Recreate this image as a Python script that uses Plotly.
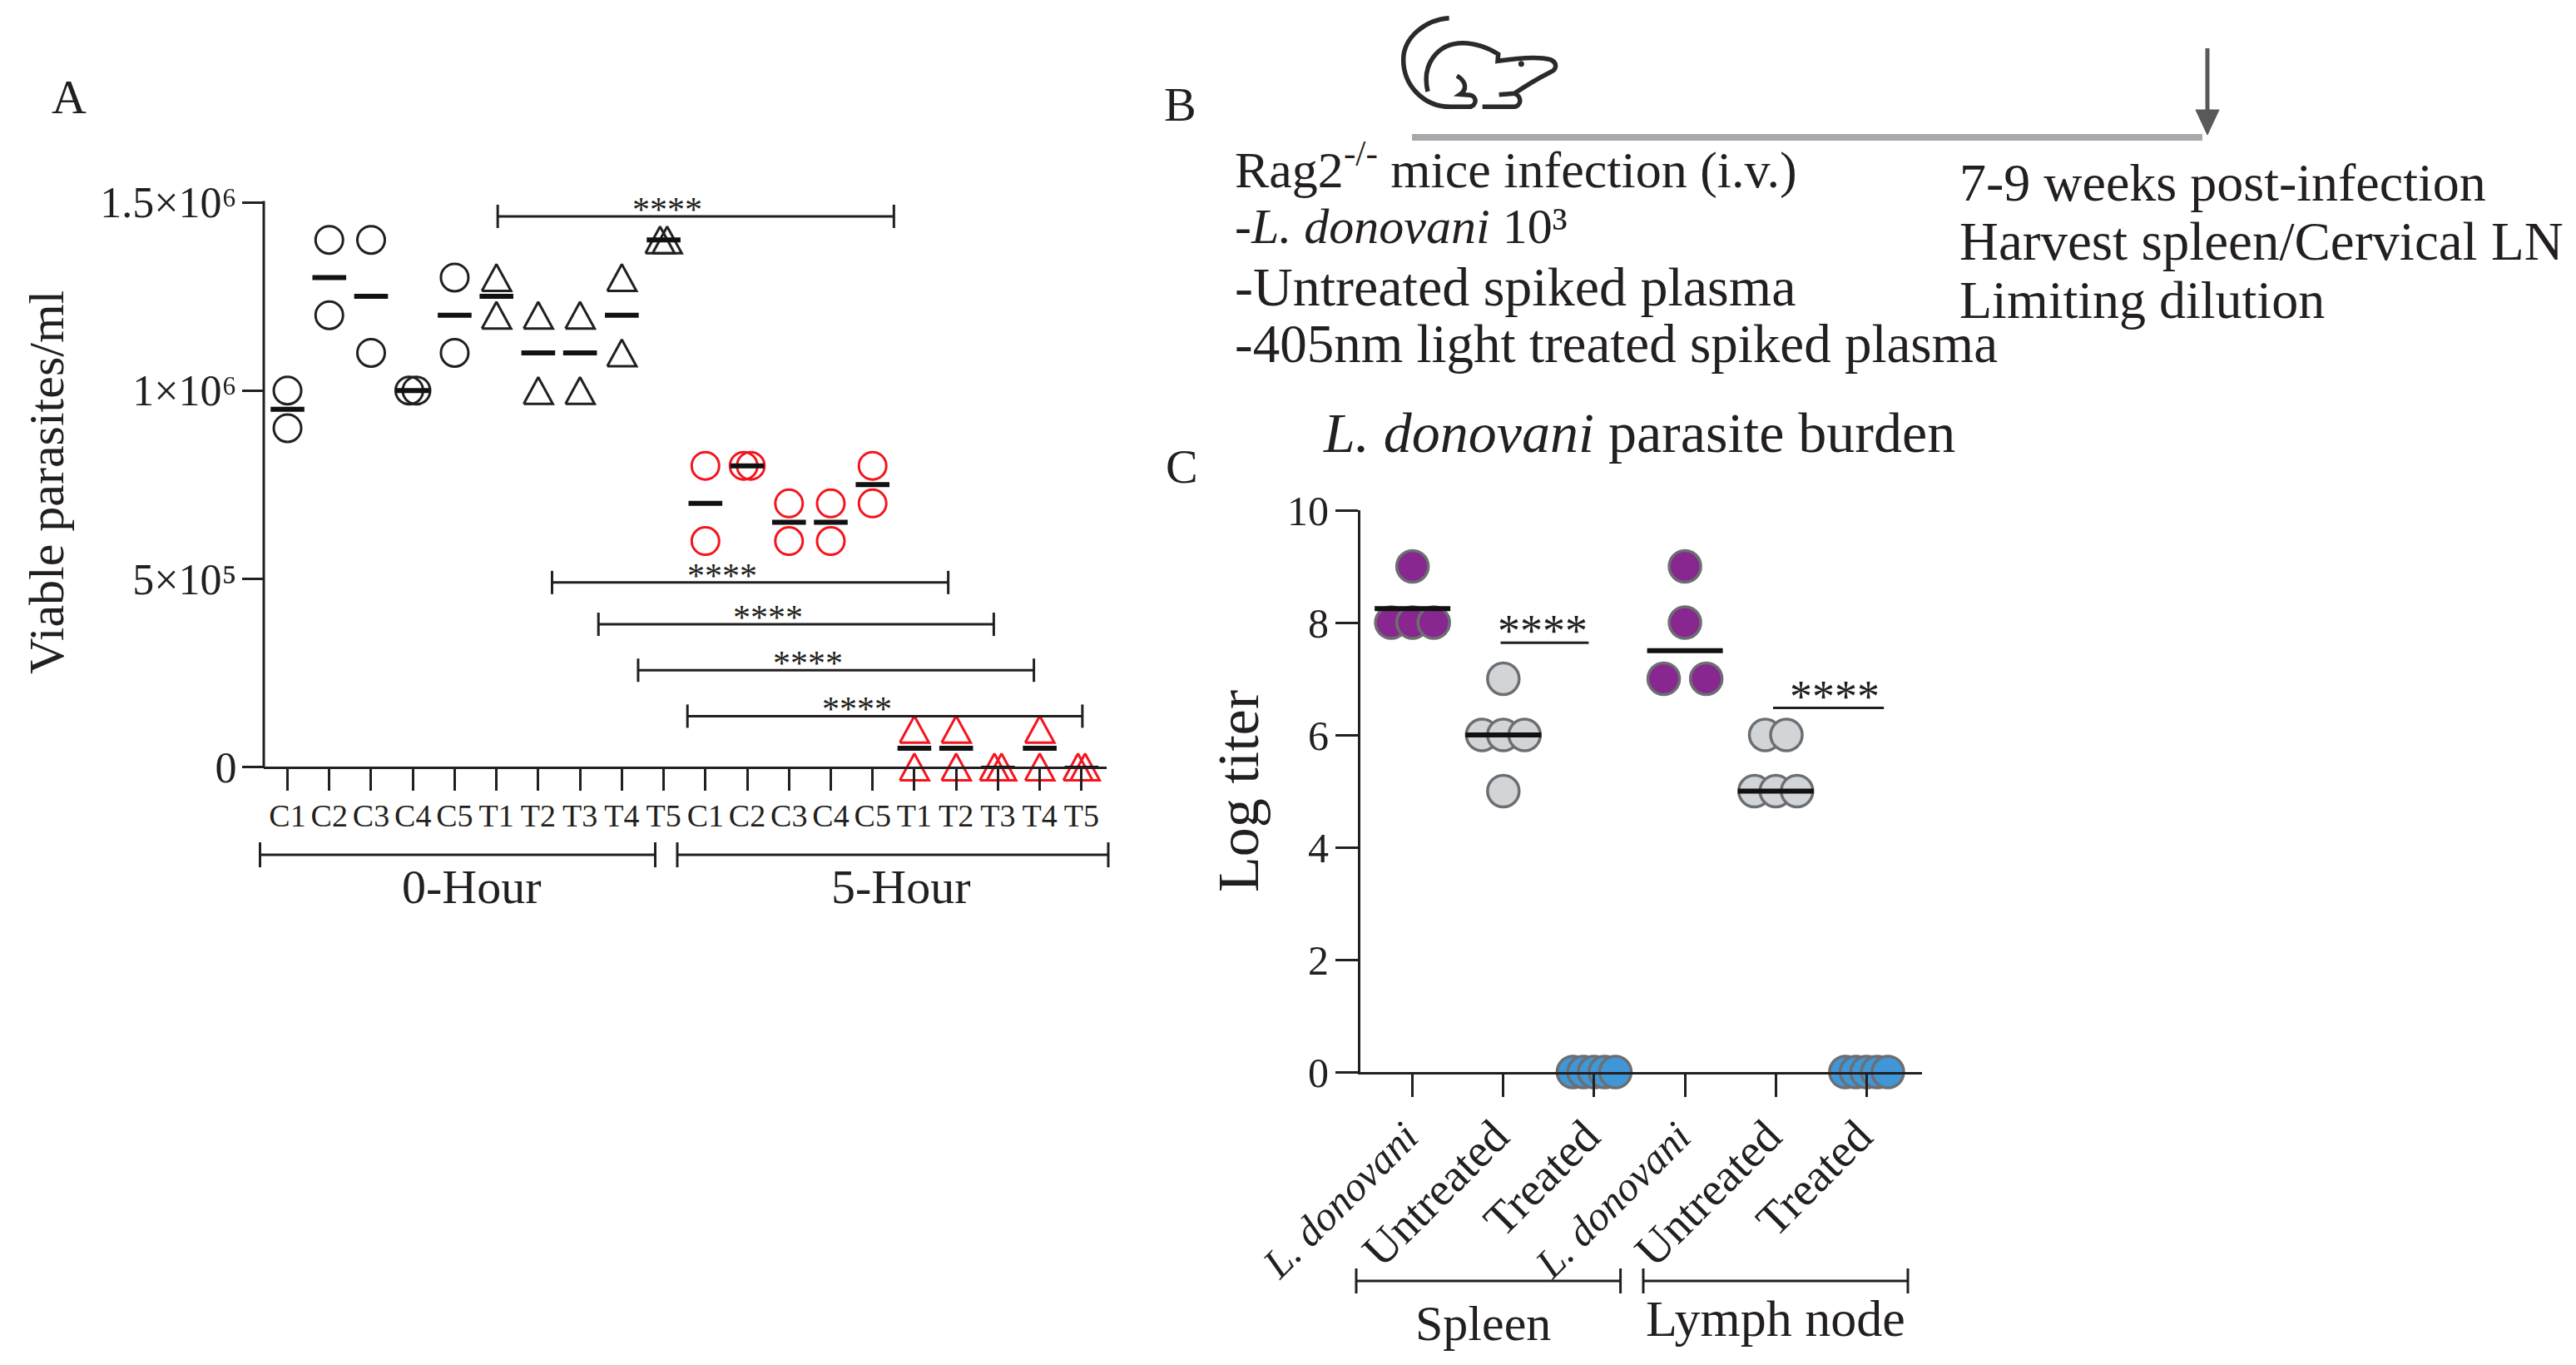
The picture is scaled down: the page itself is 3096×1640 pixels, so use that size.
import plotly.graph_objects as go

W, H = 3096, 1640
FONT = "Liberation Serif"
INK = "#231f20"
RED = "#f5141e"
PURPLE = "#87278f"
GREY_FILL = "#d1d5d8"
BLUE = "#3f97d8"
EDGE = "#6d6e71"

# ---------- Panel A data ----------
a_ticks = ["C1", "C2", "C3", "C4", "C5", "T1", "T2", "T3", "T4", "T5",
           "C1", "C2", "C3", "C4", "C5", "T1", "T2", "T3", "T4", "T5"]
a_values = [
    [1.0e6, 0.9e6], [1.4e6, 1.2e6], [1.4e6, 1.1e6], [1.0e6, 1.0e6], [1.3e6, 1.1e6],
    [1.3e6, 1.2e6], [1.2e6, 1.0e6], [1.2e6, 1.0e6], [1.3e6, 1.1e6], [1.4e6, 1.4e6],
    [0.8e6, 0.6e6], [0.8e6, 0.8e6], [0.7e6, 0.6e6], [0.7e6, 0.6e6], [0.8e6, 0.7e6],
    [1e5, 0], [1e5, 0], [0, 0], [1e5, 0], [0, 0],
]
a_means = [0.95e6, 1.3e6, 1.25e6, 1.0e6, 1.2e6, 1.25e6, 1.1e6, 1.1e6, 1.2e6, 1.4e6,
           0.7e6, 0.8e6, 0.65e6, 0.65e6, 0.75e6, 5e4, 5e4, 0, 5e4, 0]
a_ytickvals = [0, 5e5, 1e6, 1.5e6]
a_yticktext = ["0", "5×10⁵", "1×10⁶", "1.5×10⁶"]
a_sig_left = [5.03, 6.33, 7.44, 8.39, 9.57]
a_sig_right = [14.51, 15.81, 16.9, 17.86, 19.02]
a_sig_level = [1.4625e6, 4.9e5, 3.79e5, 2.57e5, 1.35e5]

# ---------- Panel C data ----------
LD = '<span style="font-size:50px"><i>L. donovani</i></span>'
c_ticks = [LD, "Untreated", "Treated", LD, "Untreated", "Treated"]
c_values = [
    [9, 8, 8, 8], [7, 6, 6, 6, 5], [0, 0, 0, 0, 0],
    [9, 8, 7, 7], [6, 6, 5, 5, 5], [0, 0, 0, 0, 0],
]
c_lines = [8.25, 6, None, 7.5, 5, None]
c_sig_left = [0.97, 3.97]
c_sig_right = [1.94, 5.19]
c_sig_level = [7.64, 6.48]


def fx(x):
    return x / W


def fy(y):
    return 1 - y / H


def dodge(values, step, spread):
    """Beeswarm-style offset: equal values sit side by side, centred on the category."""
    out = []
    for v in values:
        n = values.count(v)
        k = sum(1 for u in out if u[0] == v)
        s = min(step, spread / max(n - 1, 1))
        out.append((v, (k - (n - 1) / 2) * s))
    return [o[1] for o in out]


fig = go.Figure()

# Panel A scale: a little room under zero so the triangles sitting on the axis are not clipped
A_Y_ZERO, A_Y_TOP, A_Y_SLACK = 921.5, 243, 22
A_Y_PER_PX = 1.5e6 / (A_Y_ZERO - A_Y_TOP)
A_X_PER_PX = 20.168 / (1330 - 317)
TRI_HALF_H = 16 * A_Y_PER_PX
TRI_HALF_W = 17.5 * A_X_PER_PX
for i, vals in enumerate(a_values):
    offs = dodge(vals, 0.17, 0.17)
    colour = INK if i < 10 else RED
    xs = [i + o for o in offs]
    if i % 10 < 5:
        fig.add_trace(go.Scatter(
            x=xs, y=vals, mode="markers", xaxis="x", yaxis="y", cliponaxis=False, showlegend=False,
            marker=dict(symbol="circle-open", size=33, color=colour, line=dict(color=colour, width=3)),
        ))
    else:
        # upright triangles taller than Plotly's built-in glyph: outline traced around each value
        ox, oy = [], []
        for x, v in zip(xs, vals):
            ox += [x - TRI_HALF_W, x, x + TRI_HALF_W, x - TRI_HALF_W, None]
            oy += [v - TRI_HALF_H, v + TRI_HALF_H, v - TRI_HALF_H, v - TRI_HALF_H, None]
        fig.add_trace(go.Scatter(
            x=ox, y=oy, mode="lines", xaxis="x", yaxis="y", cliponaxis=False, showlegend=False,
            hoverinfo="skip", line=dict(color=colour, width=3, simplify=False),
        ))
        fig.add_trace(go.Scatter(
            x=xs, y=vals, mode="markers", xaxis="x", yaxis="y", cliponaxis=False, showlegend=False,
            marker=dict(symbol="triangle-up", size=30, color=colour, opacity=0),
        ))
for i, m in enumerate(a_means):
    fig.add_trace(go.Scatter(
        x=[i], y=[m], mode="markers", xaxis="x", yaxis="y", cliponaxis=False, showlegend=False,
        marker=dict(symbol="line-ew", size=29, line=dict(color="#111111", width=6 if m > 0 else 3)),
    ))
for l, r, v in zip(a_sig_left, a_sig_right, a_sig_level):
    fig.add_trace(go.Scatter(
        x=[l, r], y=[v, v], mode="lines+markers", xaxis="x", yaxis="y", cliponaxis=False, showlegend=False,
        line=dict(color=INK, width=3),
        marker=dict(symbol="line-ns", size=20, line=dict(color=INK, width=3)),
    ))

# Panel C marks
c_fill = [PURPLE, GREY_FILL, BLUE, PURPLE, GREY_FILL, BLUE]
c_step = [0.234, 0.234, 0.234, 0.468, 0.234, 0.234]
for i, vals in enumerate(c_values):
    offs = dodge(vals, c_step[i], 0.468)
    fig.add_trace(go.Scatter(
        x=[i + o for o in offs], y=vals, mode="markers", xaxis="x2", yaxis="y2",
        cliponaxis=False, showlegend=False,
        marker=dict(symbol="circle", size=38, color=c_fill[i], line=dict(color=EDGE, width=3.5)),
    ))
for i, m in enumerate(c_lines):
    if m is None:
        continue
    fig.add_trace(go.Scatter(
        x=[i], y=[m], mode="markers", xaxis="x2", yaxis="y2", cliponaxis=False, showlegend=False,
        marker=dict(symbol="line-ew", size=65, line=dict(color="#111111", width=6)),
    ))
for l, r, v in zip(c_sig_left, c_sig_right, c_sig_level):
    fig.add_trace(go.Scatter(
        x=[l, r], y=[v, v], mode="lines", xaxis="x2", yaxis="y2", cliponaxis=False, showlegend=False,
        line=dict(color=INK, width=3),
    ))

annotations = []


def note(text, x, y, size=62, anchor="left", angle=0):
    annotations.append(dict(
        text=text, x=fx(x), y=fy(y), xref="paper", yref="paper", showarrow=False,
        xanchor=anchor, yanchor="middle", textangle=angle,
        font=dict(family=FONT, size=size, color=INK),
    ))


# significance stars, tied to the brackets
for l, r, v in zip(a_sig_left, a_sig_right, a_sig_level):
    annotations.append(dict(
        text="****", x=(l + r) / 2, y=v, xref="x", yref="y", showarrow=False,
        xanchor="center", yanchor="middle", xshift=-34, yshift=8,
        font=dict(family=FONT, size=42, color=INK),
    ))
for (l, r, v), (sx, sy) in zip(zip(c_sig_left, c_sig_right, c_sig_level), [(-2, 14), (7, 14)]):
    annotations.append(dict(
        text="****", x=(l + r) / 2, y=v, xref="x2", yref="y2", showarrow=False,
        xanchor="center", yanchor="middle", xshift=sx, yshift=sy,
        font=dict(family=FONT, size=54, color=INK),
    ))

note("A", 83, 117, 58, "center")
note("B", 1418, 126, 58, "center")
note("C", 1420, 560, 58, "center")
note("Viable parasites/ml", 56, 580, 60, "center", -90)
note("0-Hour", 567, 1065, 58, "center")
note("5-Hour", 1083, 1065, 58, "center")
note("Spleen", 1782, 1590, 60, "center")
note("Lymph node", 2134, 1584, 62, "center")

note("Rag2<sup>-/-</sup> mice infection (i.v.)", 1482, 199, 62)
note("-<i>L. donovani</i> 10³", 1482, 272, 60)
note("-Untreated spiked plasma", 1482, 345, 66)
note("-405nm light treated spiked plasma", 1482, 413, 65)
note("7-9 weeks post-infection", 2353, 219, 64)
note("Harvest spleen/Cervical LN", 2353, 290, 65)
note("Limiting dilution", 2353, 361, 64)
note("<i>L. donovani</i> parasite burden", 1588, 520, 68)


def line_shape(x0, y0, x1, y1, colour=INK, width=3):
    return dict(type="line", xref="paper", yref="paper", x0=fx(x0), y0=fy(y0), x1=fx(x1), y1=fy(y1),
                line=dict(color=colour, width=width))


shapes = []
# panel A value axis line stops at zero even though the scale runs a little below it
shapes.append(line_shape(317, A_Y_TOP - 1.5, 317, A_Y_ZERO + 1.5))
for x0, x1, y in [(312.5, 787.5, 1027), (814, 1332, 1027), (1630, 1947.6, 1539), (1975, 2293, 1539)]:
    shapes.append(line_shape(x0, y, x1, y))
    shapes.append(line_shape(x0, y - 15, x0, y + 15))
    shapes.append(line_shape(x1, y - 15, x1, y + 15))

# timeline and arrow of panel B
shapes.append(line_shape(1697, 165, 2647, 165, "#a7a9ac", 8))
shapes.append(line_shape(2653, 58, 2653, 140, "#58595b", 5))


def poly(points, closed=False):
    head, *rest = points
    d = f"M{fx(head[0]):.5f},{fy(head[1]):.5f}"
    for p in rest:
        d += f"L{fx(p[0]):.5f},{fy(p[1]):.5f}"
    return d + ("Z" if closed else "")


shapes.append(dict(type="path", xref="paper", yref="paper",
                   path=poly([(2639, 132), (2667, 132), (2653, 162)], True),
                   fillcolor="#58595b", line=dict(color="#58595b", width=1)))


# mouse icon
def zm(x, y):
    return 1670 + x / 3, 15 + y / 3


def curve(cmds):
    d = ""
    for c, pts in cmds:
        d += c + " ".join(f"{fx(zm(*p)[0]):.5f},{fy(zm(*p)[1]):.5f}" for p in pts)
    return d


mouse = [
    [("M", [(215, 20)]), ("C", [(130, 25), (50, 90), (50, 170)]), ("C", [(50, 260), (120, 340), (220, 340)]),
     ("L", [(285, 340)]), ("C", [(315, 340), (318, 302), (290, 298)]), ("L", [(255, 295)]),
     ("C", [(278, 280), (280, 250), (243, 228)])],
    [("M", [(138, 285)]), ("C", [(115, 190), (170, 110), (265, 110)]), ("C", [(310, 110), (350, 125), (392, 150)]),
     ("L", [(390, 175), (403, 118), (445, 150)]), ("C", [(490, 160), (545, 160), (580, 170)]),
     ("C", [(605, 180), (605, 205), (580, 215)]), ("C", [(530, 240), (490, 265), (450, 292)]), ("L", [(395, 296)])],
    [("M", [(450, 292)]), ("C", [(478, 300), (478, 340), (445, 340)]), ("L", [(335, 340)])],
]
for m in mouse:
    shapes.append(dict(type="path", xref="paper", yref="paper", path=curve(m),
                       line=dict(color="#2a2a2a", width=5.5)))
ex, ey = zm(475, 185)
shapes.append(dict(type="circle", xref="paper", yref="paper", x0=fx(ex - 3.5), x1=fx(ex + 3.5),
                   y0=fy(ey + 3.5), y1=fy(ey - 3.5), fillcolor="#2a2a2a", line=dict(width=0)))

axis_common = dict(showgrid=False, zeroline=False, linecolor=INK, linewidth=3,
                   ticks="outside", tickcolor=INK, tickwidth=3, automargin=False)

fig.update_layout(
    width=W, height=H, margin=dict(l=0, r=0, t=0, b=0, autoexpand=False), paper_bgcolor="white", plot_bgcolor="white",
    showlegend=False, annotations=annotations, shapes=shapes,
    font=dict(family=FONT, color=INK),
    xaxis=dict(domain=[fx(317), fx(1330)], range=[-0.568, 19.6], anchor="free", position=fy(A_Y_ZERO), showline=True,
               tickmode="array", tickvals=list(range(20)), ticktext=a_ticks, tickangle=0,
               ticklen=26, ticklabelstandoff=-2, tickfont=dict(family=FONT, size=38, color=INK), **axis_common),
    yaxis=dict(domain=[fy(A_Y_ZERO + A_Y_SLACK), fy(A_Y_TOP)], range=[-A_Y_SLACK * A_Y_PER_PX, 1.5e6], anchor="x",
               showline=False, tickmode="array", tickvals=a_ytickvals, ticktext=a_yticktext,
               ticklen=25, ticklabelstandoff=-4, tickfont=dict(family=FONT, size=52, color=INK),
               **axis_common),
    xaxis2=dict(domain=[fx(1635), fx(2310)], range=[-0.574, 5.61], anchor="y2", showline=True,
                tickmode="array", tickvals=list(range(6)), ticktext=c_ticks, tickangle=-45,
                ticklen=27, ticklabelstandoff=-8, ticklabelshift=-10,
                tickfont=dict(family=FONT, size=56, color=INK), **axis_common),
    yaxis2=dict(domain=[fy(1288), fy(613)], range=[0, 10], anchor="x2", showline=True,
                tickmode="array", tickvals=[0, 2, 4, 6, 8, 10],
                ticklen=27, ticklabelstandoff=-2, tickfont=dict(family=FONT, size=50, color=INK),
                title=dict(text="Log titer", standoff=12, font=dict(family=FONT, size=70, color=INK)),
                **axis_common),
)

fig.write_html("out.html", config={"displayModeBar": False},
               post_script="document.body.style.margin='0';document.documentElement.style.overflow='hidden';")
